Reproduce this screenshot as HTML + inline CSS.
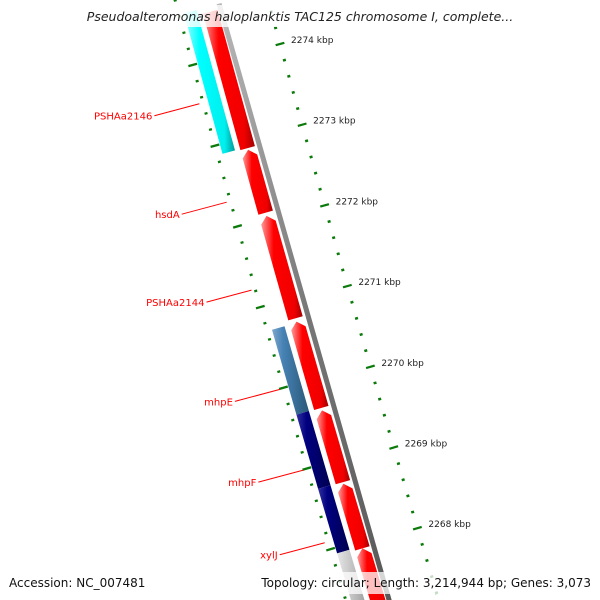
<!DOCTYPE html>
<html><head><meta charset="utf-8"><style>
html,body{margin:0;padding:0;background:#fff}
svg{display:block;font-family:"DejaVu Sans","Liberation Sans",sans-serif}
</style></head><body>
<svg id="map" width="600" height="600" viewBox="0 0 600 600">
<defs>
<linearGradient id="gRed" x1="0" x2="1" y1="0" y2="0"><stop offset="0" stop-color="#ff9a9a"/><stop offset="0.3" stop-color="#ff0000"/><stop offset="0.8" stop-color="#f00000"/><stop offset="1" stop-color="#a00000"/></linearGradient>
<linearGradient id="gCyan" x1="0" x2="1"><stop offset="0" stop-color="#9fffff"/><stop offset="0.3" stop-color="#00ffff"/><stop offset="0.8" stop-color="#00eeee"/><stop offset="1" stop-color="#009999"/></linearGradient>
<linearGradient id="gSteel" x1="0" x2="1"><stop offset="0" stop-color="#7fa8cc"/><stop offset="0.3" stop-color="#4682b4"/><stop offset="1" stop-color="#2a5878"/></linearGradient>
<linearGradient id="gNavy" x1="0" x2="1"><stop offset="0" stop-color="#3030a0"/><stop offset="0.3" stop-color="#000080"/><stop offset="1" stop-color="#000050"/></linearGradient>
<linearGradient id="gGray" x1="0" x2="1"><stop offset="0" stop-color="#e6e6e6"/><stop offset="0.4" stop-color="#c8c8c8"/><stop offset="1" stop-color="#999"/></linearGradient>
<linearGradient id="gBack" x1="0" x2="1"><stop offset="0" stop-color="#bbb"/><stop offset="0.5" stop-color="#777"/><stop offset="1" stop-color="#555"/></linearGradient>
</defs>
<g id="layer"></g>
<rect x="55" y="5" width="490" height="22" fill="#fff" fill-opacity="0.8"/>
<text x="300" y="21" text-anchor="middle" font-size="12.5" font-style="italic" fill="#222">Pseudoalteromonas haloplanktis TAC125 chromosome I, complete...</text>
<rect x="0" y="572" width="600" height="22" fill="#fff" fill-opacity="0.75"/>
<text x="9" y="587" font-size="12" fill="#111">Accession: NC_007481</text>
<text x="591" y="587" text-anchor="end" font-size="12" fill="#111">Topology: circular; Length: 3,214,944 bp; Genes: 3,073</text>
</svg>
<script>
// data (kbp)
const scaleLabels = [2274, 2273, 2272, 2271, 2270, 2269, 2268];
const fwdStarts = [2272.71, 2271.91, 2270.60, 2269.49, 2268.57, 2267.75, 2266.9];
const fwdEnds   = [2274.40, 2272.69, 2271.87, 2270.56, 2269.46, 2268.55, 2267.75];
const revStarts = [2272.66, 2269.43, 2268.51, 2267.71, 2266.9];
const revEnds   = [2274.40, 2270.48, 2269.43, 2268.51, 2267.71];
const revColors = ['gCyan', 'gSteel', 'gNavy', 'gNavy', 'gGray'];
const geneNames = ['PSHAa2146', 'hsdA', 'PSHAa2144', 'mhpE', 'mhpF', 'xylJ'];
const genePos   = [2273.26, 2272.04, 2270.95, 2269.72, 2268.72, 2267.82];

const NS = 'http://www.w3.org/2000/svg';
const layer = document.getElementById('layer');
function pt(p, off) {
  const t = 2274 - p;
  return [280 + 22 * t + 0.15 * t * t + off, 44 + 80.7 * t];
}
function dir(p) {
  const t = 2274 - p;
  const dx = 22 + 0.3 * t, dy = 80.7, l = Math.hypot(dx, dy);
  return [dx / l, dy / l];
}
function mk(tag, attrs) {
  const e = document.createElementNS(NS, tag);
  for (const k in attrs) e.setAttribute(k, attrs[k]);
  layer.appendChild(e);
  return e;
}
function bar(p0, p1, off, w, fill, arrowUp) {
  // p1 > p0 ; p1 is the upper end
  const a = pt(p1, off), b = pt(p0, off), u = dir(p1), v = dir(p0);
  const na = [u[1], -u[0]], nb = [v[1], -v[0]];
  const h = w / 2;
  let pts;
  if (arrowUp) {
    const ah = 7;
    const a2 = [a[0] + u[0] * ah, a[1] + u[1] * ah];
    pts = [[a2[0] - na[0] * h, a2[1] - na[1] * h], [a[0], a[1]], [a2[0] + na[0] * h, a2[1] + na[1] * h],
           [b[0] + nb[0] * h, b[1] + nb[1] * h], [b[0] - nb[0] * h, b[1] - nb[1] * h]];
  } else {
    pts = [[a[0] - na[0] * h, a[1] - na[1] * h], [a[0] + na[0] * h, a[1] + na[1] * h],
           [b[0] + nb[0] * h, b[1] + nb[1] * h], [b[0] - nb[0] * h, b[1] - nb[1] * h]];
  }
  return mk('polygon', {points: pts.map(q => q[0].toFixed(1) + ',' + q[1].toFixed(1)).join(' '), fill: 'url(#' + fill + ')'});
}
// backbone
const bb = bar(2266.8, 2274.5, -50, 5, 'gBack', false);


// forward features
for (let i = 0; i < fwdStarts.length; i++) {
  const e = bar(fwdStarts[i], fwdEnds[i], -61, 15, 'gRed', i > 0);
  
  
}
// reverse features
for (let i = 0; i < revStarts.length; i++) {
  const e = bar(revStarts[i], revEnds[i], -81, 13, revColors[i], false);
  
  
}
// ticks
function tick(p, off, len, w) {
  const c = pt(p, off), u = dir(p), n = [u[1], -u[0]];
  return mk('line', {x1: c[0] - n[0] * len / 2, y1: c[1] - n[1] * len / 2, x2: c[0] + n[0] * len / 2, y2: c[1] + n[1] * len / 2, stroke: '#0a7a0a', 'stroke-width': w});
}
for (let k = -2; k <= 36; k++) {
  const p = 2274 - k * 0.2;
  const major = k % 5 === 0;
  const e = tick(p, 0, major ? 9 : 3, major ? 2.2 : 2.5);
  
  
  const q = 2273.74 - k * 0.2 + 0.4;
  const e2 = tick(q, -93, (k % 5 === 2) ? 9 : 3, 2.3);
  
  
}
for (let i = 0; i < scaleLabels.length; i++) {
  const c = pt(scaleLabels[i], 0);
  const t = mk('text', {x: c[0] + 11, y: c[1] - 1, 'font-size': 9, fill: '#222'});
  t.textContent = scaleLabels[i] + ' kbp';
  
  
}
// gene labels
for (let i = 0; i < geneNames.length; i++) {
  const c = pt(genePos[i], -97);
  const x2 = c[0], y2 = c[1];
  const x1 = x2 - 45, y1 = y2 + 12;
  const ln = mk('line', {x1: x1, y1: y1, x2: x2, y2: y2, stroke: '#f00', 'stroke-width': 1});
  
  
  const t = mk('text', {x: x1 - 2, y: y1 + 4, 'font-size': 10, fill: '#f00', 'text-anchor': 'end'});
  t.textContent = geneNames[i];
  
  
}
</script>
</body></html>
